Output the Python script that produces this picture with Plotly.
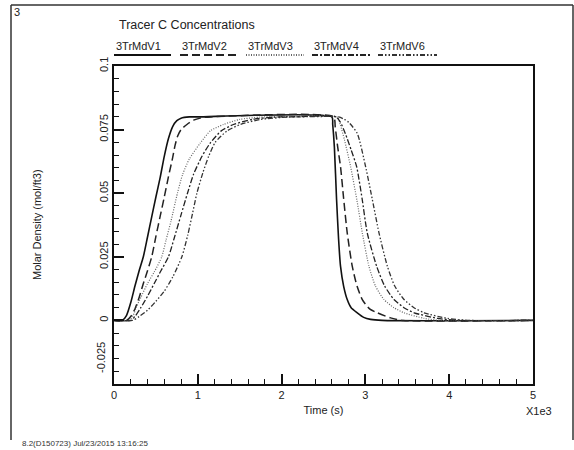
import plotly.graph_objects as go

# ---------------- data ----------------
series_names = ["3TrMdV1", "3TrMdV2", "3TrMdV3", "3TrMdV4", "3TrMdV6"]

t_v1 = [0, 100, 150, 200, 250, 300, 350, 400, 450, 500, 550, 600, 650, 700, 750, 800, 900, 1000,
        2600, 2610, 2630, 2656, 2680, 2703, 2740, 2783, 2830, 2903, 2980, 3062, 3200, 5000]
c_v1 = [0, 0, 0.002, 0.007, 0.0135, 0.0195, 0.025, 0.0328, 0.0407, 0.0485, 0.056, 0.0645, 0.0715,
        0.0762, 0.0785, 0.0795, 0.08, 0.08,
        0.08, 0.077, 0.068, 0.0475, 0.032, 0.0213, 0.0135, 0.0082, 0.005, 0.003, 0.0012, 0.0004, 0, 0]

t_v2 = [0, 150, 200, 250, 300, 350, 400, 450, 500, 550, 600, 650, 700, 730, 760, 800, 870, 950, 1050, 1150,
        2620, 2640, 2670, 2703, 2740, 2783, 2843, 2900, 2963, 3050, 3142, 3300, 3450, 5000]
c_v2 = [0, 0, 0.0015, 0.0045, 0.009, 0.0145, 0.0195, 0.025, 0.033, 0.0408, 0.0485, 0.0565, 0.064, 0.069,
        0.0725, 0.075, 0.077, 0.0787, 0.0797, 0.08,
        0.08, 0.076, 0.068, 0.0605, 0.048, 0.0344, 0.0213, 0.0135, 0.0082, 0.0045, 0.003, 0.001, 0, 0]

t_v3 = [0, 180, 230, 270, 320, 400, 480, 570, 620, 680, 757, 820, 900, 1029, 1150, 1306, 1500, 1746, 1900,
        2664, 2700, 2750, 2823, 2900, 2963, 3042, 3120, 3222, 3340, 3461, 3700, 3900, 5000]
c_v3 = [0, 0, 0.002, 0.0055, 0.009, 0.0145, 0.019, 0.025, 0.0315, 0.039, 0.05, 0.0575, 0.0635, 0.0697,
        0.0745, 0.077, 0.079, 0.0799, 0.08,
        0.08, 0.077, 0.071, 0.0605, 0.047, 0.0344, 0.0213, 0.0135, 0.0082, 0.005, 0.003, 0.0008, 0, 0]

t_v4 = [0, 200, 260, 320, 400, 480, 560, 650, 720, 800, 877, 950, 1050, 1148, 1280, 1425, 1650, 1905, 2100,
        2650, 2700, 2760, 2830, 2895, 2960, 3022, 3134, 3230, 3341, 3460, 3581, 3860, 4100, 5000]
c_v4 = [0, 0, 0.002, 0.005, 0.0095, 0.0145, 0.0195, 0.025, 0.0325, 0.0415, 0.05, 0.0575, 0.0645, 0.0697,
        0.0745, 0.077, 0.079, 0.0799, 0.08,
        0.08, 0.078, 0.0735, 0.067, 0.0605, 0.048, 0.0344, 0.0213, 0.0135, 0.0082, 0.005, 0.003, 0.0008, 0, 0]

t_v6 = [0, 220, 300, 400, 500, 600, 700, 810, 880, 940, 989, 1060, 1130, 1208, 1350, 1507, 1750, 2066, 2200,
        2680, 2750, 2803, 2903, 3002, 3080, 3162, 3262, 3350, 3461, 3580, 3700, 3980, 4250, 5000]
c_v6 = [0, 0, 0.0015, 0.004, 0.0075, 0.0115, 0.017, 0.025, 0.0335, 0.0425, 0.05, 0.058, 0.0645, 0.07,
        0.0745, 0.077, 0.079, 0.0799, 0.08,
        0.08, 0.079, 0.0778, 0.0735, 0.0605, 0.048, 0.0344, 0.0213, 0.0135, 0.0082, 0.005, 0.003, 0.0008, 0, 0]

x_tickvals = [0, 1000, 2000, 3000, 4000, 5000]
x_ticktext = ["0", "1", "2", "3", "4", "5"]
y_tickvals = [-0.025, 0, 0.025, 0.05, 0.075, 0.1]
y_ticktext = ["", "0", "0.025", "0.05", "0.075", "0.1"]
y_bottom_label = "-0.025"

# ---------------- styling ----------------
W, H = 574, 450
L, R, T, B = 114, 41, 66, 66
pw, ph = W - L - R, H - T - B

def px(x):
    return (x - L) / pw

def py(y):
    return (H - B - y) / ph

FONT = "Liberation Sans, Arial, sans-serif"
styles = [
    dict(color="#111", width=1.6, dash="solid"),
    dict(color="#222", width=1.5, dash="8px,4px"),
    dict(color="#666", width=1.2, dash="1px,1.5px"),
    dict(color="#222", width=1.3, dash="6px,2px,2px,2px"),
    dict(color="#333", width=1.3, dash="5px,2px,1.5px,2px,1.5px,2px"),
]

fig = go.Figure()
for name, t, c, st in zip(series_names, [t_v1, t_v2, t_v3, t_v4, t_v6],
                          [c_v1, c_v2, c_v3, c_v4, c_v6], styles):
    fig.add_trace(go.Scatter(x=t, y=c, mode="lines", name=name,
                             line=dict(shape="spline", smoothing=0.6, **st), showlegend=False))

shapes = []
annotations = []

# legend (text above sample line)
leg_x0 = [114, 180, 246, 312, 378]
leg_x1 = [171, 238, 304, 370, 437]
for name, x0, x1, st in zip(series_names, leg_x0, leg_x1, styles):
    annotations.append(dict(text=name, x=px(x0), y=py(46), xref="paper", yref="paper",
                            xanchor="left", yanchor="middle", showarrow=False,
                            font=dict(family=FONT, size=11, color="#222")))
    shapes.append(dict(type="line", x0=px(x0), x1=px(x1), y0=py(55), y1=py(55), xref="paper", yref="paper",
                       line=dict(color=st["color"], width=2.2 if st["dash"] == "solid" else 1.8,
                                 dash=st["dash"])))

def note(text, x, y, size=11, xanchor="left", textangle=0, color="#222"):
    annotations.append(dict(text=text, x=px(x), y=py(y), xref="paper", yref="paper",
                            xanchor=xanchor, yanchor="middle", showarrow=False, textangle=textangle,
                            font=dict(family=FONT, size=size, color=color)))

note("Tracer C Concentrations", 117, 25, size=12.5)
note("3", 12, 12, size=11)
note("X1e3", 539, 411, xanchor="center")
note("8.2(D150723) Jul/23/2015 13:16:25", 20, 443, size=8, color="#333")
note("Molar Density (mol/ft3)", 37, 225, xanchor="center", textangle=-90)
note(y_bottom_label, 101, 358, xanchor="center", textangle=-90)

# outer frame (left, top, right)
for (x0, y0, x1, y1) in [(11, 5, 11, 440), (11, 5, 573, 5), (573, 5, 573, 440)]:
    shapes.append(dict(type="line", x0=px(x0), x1=px(x1), y0=py(y0), y1=py(y1), xref="paper", yref="paper",
                       line=dict(color="#333", width=1.5)))

fig.update_layout(
    width=W, height=H,
    margin=dict(l=L, r=R, t=T, b=B, pad=0),
    paper_bgcolor="white", plot_bgcolor="white",
    font=dict(family=FONT, size=11, color="#222"),
    shapes=shapes, annotations=annotations,
    xaxis=dict(range=[0, 5000], tickvals=x_tickvals, ticktext=x_ticktext, ticks="inside", ticklen=10,
               tickwidth=1.5, tickcolor="#111", showline=True, linewidth=2, linecolor="#111", mirror=True,
               showgrid=False, zeroline=False,
               minor=dict(dtick=200, ticks="inside", ticklen=5, tickwidth=1.2, tickcolor="#111"),
               title=dict(text="Time (s)", font=dict(size=11), standoff=6),
               tickfont=dict(size=11)),
    yaxis=dict(range=[-0.025, 0.1], tickvals=y_tickvals, ticktext=y_ticktext, ticks="inside", ticklen=10,
               tickwidth=1.5, tickcolor="#111", showline=True, linewidth=2, linecolor="#111", mirror=True,
               showgrid=False, zeroline=False, tickangle=-90,
               minor=dict(dtick=0.005, ticks="inside", ticklen=5, tickwidth=1.2, tickcolor="#111"),
               tickfont=dict(size=11)),
)

fig.write_html("out.html")
